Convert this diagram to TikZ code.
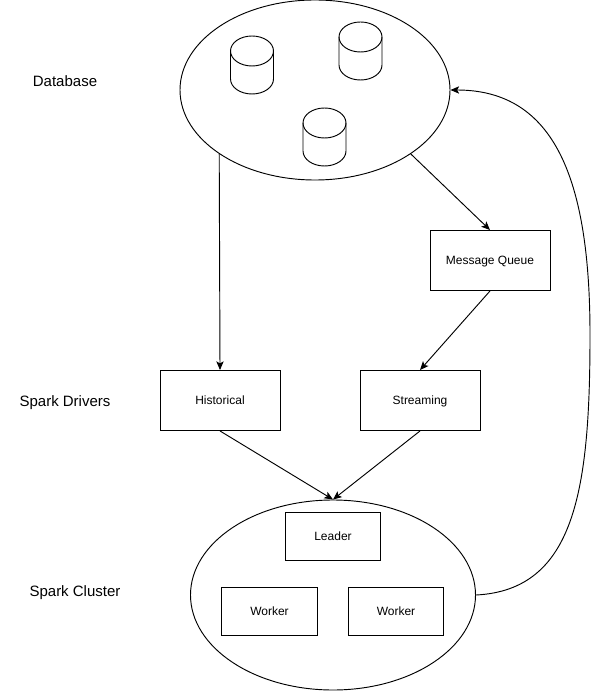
\documentclass[tikz,border=0pt]{standalone}
\usepackage{fontspec}
\setmainfont{Liberation Sans}
\usetikzlibrary{shapes.geometric,arrows.meta}
\tikzset{
  x=0.75pt,y=-0.75pt,
  boxnode/.style={draw,minimum width=90pt,minimum height=45pt,inner sep=0pt,text height=6.5pt,text depth=0pt,font=\fontsize{9}{10}\selectfont},
  smallbox/.style={draw,minimum width=71.5pt,minimum height=36pt,inner sep=0pt,text height=6.5pt,text depth=0pt,font=\fontsize{9}{10}\selectfont},
  sidelabel/.style={text height=8pt,text depth=0pt,font=\fontsize{11.25}{12}\selectfont},
  bubble/.style={draw,ellipse,inner sep=0pt},
  drum/.pic={
    \draw (-21.5,-14) -- (-21.5,14) arc[start angle=180,end angle=0,x radius=21.5,y radius=15] -- (21.5,-14);
    \draw (0,-14) ellipse[x radius=21.5,y radius=15];
  },
  link/.style={-{Stealth[length=6.5pt,width=5.5pt,inset=1.5pt]}}
}
\begin{document}
\begin{tikzpicture}[line width=0.7pt]
\useasboundingbox (0,0) rectangle (591,691);
\node[sidelabel] (dblabel) at(65,81){Database};
\node[sidelabel] (driverlabel) at(65,401){Spark Drivers};
\node[sidelabel] (clusterlabel) at(75,591){Spark Cluster};
% top
\node[bubble,minimum width=202.5pt,minimum height=135pt] (database) at(315,90){};
\pic at(252,65){drum};
\pic at(360.5,51){drum};
\pic at(324.5,137){drum};
% middle
\node[boxnode] (queue) at(490,260.5){Message Queue};
\node[boxnode] (historical) at(220,400.5){Historical};
\node[boxnode] (streaming) at(420,400.5){Streaming};
% bottom
\node[bubble,minimum width=213.75pt,minimum height=142.5pt] (cluster) at(333,595){};
\node[smallbox] (leader) at(333,536){Leader};
\node[smallbox] (workerA) at(269.5,611){Worker};
\node[smallbox] (workerB) at(396,611){Worker};
\draw[link] (database.south west) -- (historical.north);
\draw[link] (database.south east) -- (queue.north);
\draw[link] (queue.south) -- (streaming.north);
\draw[link] (historical.south) -- (cluster.north);
\draw[link] (streaming.south) -- (cluster.north);
\draw[link] (cluster.east) .. controls (575,590) and (590,490) .. (590,335) .. controls (590,180) and (555,90) .. (database.east);
\end{tikzpicture}
\end{document}
